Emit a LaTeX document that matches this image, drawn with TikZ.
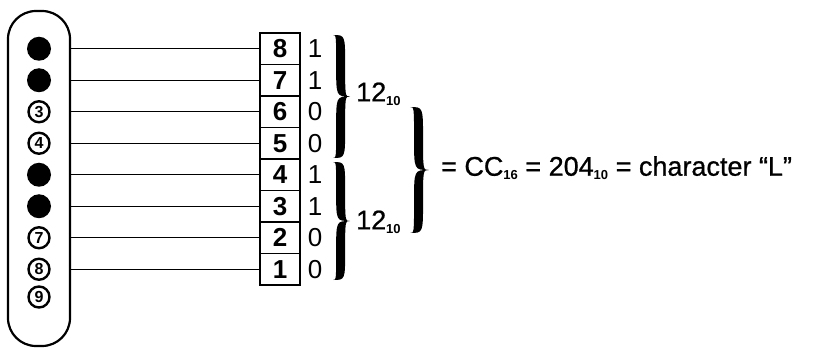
\documentclass[tikz,border=0pt]{standalone}
\usepackage{fontspec}
\setmainfont{Liberation Sans}
\newfontfamily\inkfont{Liberation Sans}[Ligatures=TeX, BoldFont={Liberation Sans}, BoldFeatures={FakeBold=0.8}]
\newcommand\subs[1]{\raisebox{-4pt}{\fontsize{13}{13}\selectfont\normalfont\bfseries #1}}
\newcommand\bracefill[5]{% x0, ytop, ybot, width, thickness
  \pgfmathsetmacro\bxc{#1+0.45*#4}%
  \pgfmathsetmacro\bxe{\bxc+#5/2}%
  \pgfmathsetmacro\bxw{\bxc-#5/2}%
  \pgfmathsetmacro\bym{(#2+#3)/2}%
  \pgfmathsetmacro\byq{(#3-#2)/4}%
  \pgfmathsetmacro\bxp{#1+#4}%
  \fill (#1,#2) .. controls (\bxe,#2) .. (\bxe,{#2+\byq})
    .. controls (\bxe,\bym) .. (\bxp,\bym)
    .. controls (\bxe,\bym) .. (\bxe,{#3-\byq})
    .. controls (\bxe,#3) .. (#1,#3)
    .. controls (\bxw,#3) .. (\bxw,{#3-\byq})
    .. controls (\bxw,\bym) .. (\bxp,\bym)
    .. controls (\bxw,\bym) .. (\bxw,{#2+\byq})
    .. controls (\bxw,#2) .. (#1,#2) -- cycle;%
}
\begin{document}
\begin{tikzpicture}[x=1pt,y=-1pt,
  cell/.style={draw, line width=1.7pt, minimum width=40pt, minimum height=31.5pt, inner sep=0pt, font=\fontsize{26}{26}\selectfont\bfseries},
  bit/.style={inner sep=0pt, font=\fontsize{26}{26}\selectfont\inkfont},
  blackdot/.style={circle, fill=black, minimum size=24pt, inner sep=0pt},
  pinnum/.style={circle, draw, line width=2.4pt, minimum size=21pt, inner sep=0pt, font=\fontsize{16}{16}\selectfont\bfseries},
  wire/.style={line width=1.4pt},
  lbl/.style={inner sep=0pt, font=\fontsize{27}{30}\selectfont\inkfont\bfseries, anchor=west}]
\useasboundingbox (0,0) rectangle (820,350);
% connector housing
\node[draw, line width=2.2pt, rounded corners=28pt, minimum width=62pt, minimum height=335pt, inner sep=0pt] (pill) at (39,178.5) {};
% pins
\node[blackdot] (d1) at (39,48.75) {};
\node[blackdot] (d2) at (39,80.25) {};
\node[pinnum] (d3) at (39,111.75) {3};
\node[pinnum] (d4) at (39,143.25) {4};
\node[blackdot] (d5) at (39,174.75) {};
\node[blackdot] (d6) at (39,206.25) {};
\node[pinnum] (d7) at (39,237.75) {7};
\node[pinnum] (d8) at (39,269.25) {8};
\node[pinnum] (d9) at (39,297) {9};
% bit cells
\node[cell] (c8) at (280,48.75) {8};
\node[cell] (c7) at (280,80.25) {7};
\node[cell] (c6) at (280,111.75) {6};
\node[cell] (c5) at (280,143.25) {5};
\node[cell] (c4) at (280,174.75) {4};
\node[cell] (c3) at (280,206.25) {3};
\node[cell] (c2) at (280,237.75) {2};
\node[cell] (c1) at (280,269.25) {1};
% bit values
\node[bit] (b8) at (315,48.75) {1};
\node[bit] (b7) at (315,80.25) {1};
\node[bit] (b6) at (315,111.75) {0};
\node[bit] (b5) at (315,143.25) {0};
\node[bit] (b4) at (315,174.75) {1};
\node[bit] (b3) at (315,206.25) {1};
\node[bit] (b2) at (315,237.75) {0};
\node[bit] (b1) at (315,269.25) {0};
% wires
\foreach \c in {c8,c7,c6,c5,c4,c3,c2,c1}
  \draw[wire] (pill.east |- \c.west) -- (\c.west);
% braces
\bracefill{333}{35}{158}{17}{9}
\bracefill{333}{162}{280}{17}{9}
\bracefill{410}{107}{233}{19}{9}
% labels
\node[lbl] (t1) at (356,94) {12\subs{10}};
\node[lbl] (t2) at (356,222) {12\subs{10}};
\node[lbl] (res) at (441,168) {= CC\subs{16} = 204\subs{10} = character “L”};
\end{tikzpicture}
\end{document}
